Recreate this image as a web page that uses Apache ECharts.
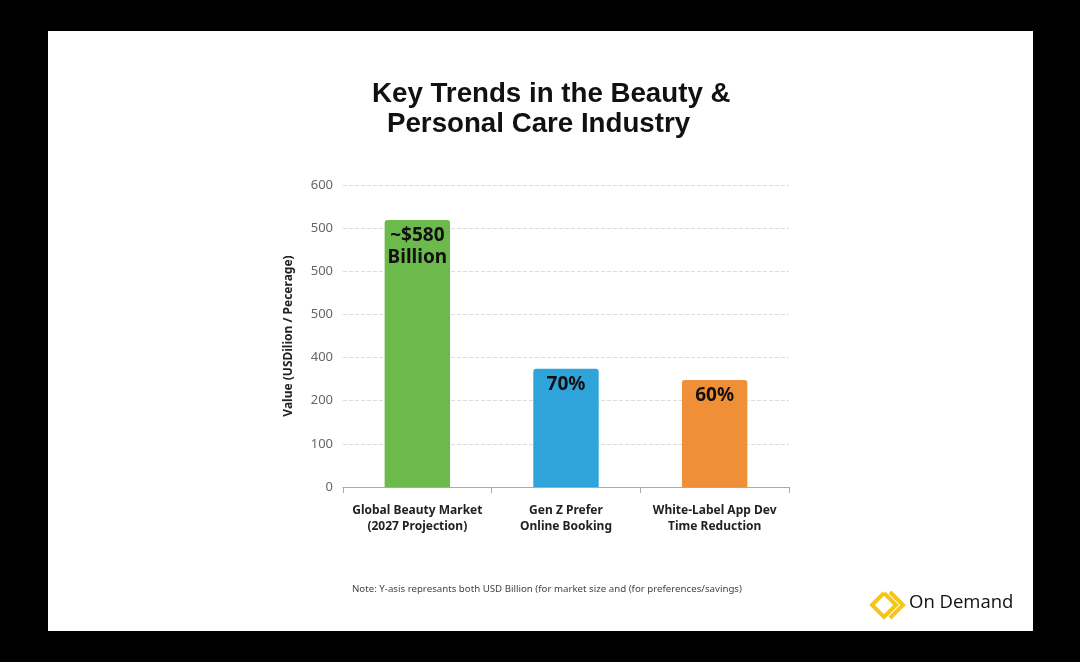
<!DOCTYPE html>
<html>
<head>
<meta charset="utf-8">
<script src="https://cdn.jsdelivr.net/npm/echarts@6/dist/echarts.min.js"></script>
<style>
html,body{margin:0;padding:0;background:#000;}
#c{width:1080px;height:662px;}
</style>
</head>
<body>
<div id="c"></div>
<script>
const categories = ['Global Beauty Market\n(2027 Projection)', 'Gen Z Prefer\nOnline Booking', 'White-Label App Dev\nTime Reduction'];
const values = [619, 274, 248];
const barLabels = ['~$580\nBillion', '70%', '60%'];
const barColors = ['#6cb94c', '#2fa4db', '#ef9039'];
const tickLabels = ['0', '100', '200', '400', '500', '500', '500', '600'];

const chart = echarts.init(document.getElementById('c'));
chart.setOption({
  backgroundColor: '#000',
  animation: false,
  graphic: [
    { type: 'rect', z: -10, shape: { x: 48, y: 31, width: 985, height: 600 }, style: { fill: '#fff' } },
    { type: 'text', left: 372, top: 80, style: { text: 'Key Trends in the Beauty &', font: 'bold 27.7px "Liberation Sans", Arial, sans-serif', fill: '#111' } },
    { type: 'text', left: 387, top: 110, style: { text: 'Personal Care Industry', font: 'bold 27.7px "Liberation Sans", Arial, sans-serif', fill: '#111' } },
    { type: 'text', left: 352, top: 584, style: { text: 'Note: Y-asis represants both USD Billion (for market size and (for preferences/savings)', font: '9.7px "Noto Sans", sans-serif', fill: '#444' } },
    { type: 'polyline', shape: { points: [[884, 593], [872, 605], [884, 617], [896, 605], [884, 593]] }, style: { stroke: '#f5c518', lineWidth: 4, fill: null, lineJoin: 'miter' } },
    { type: 'polyline', shape: { points: [[890, 592], [903, 605], [890, 618]] }, style: { stroke: '#f5c518', lineWidth: 4, fill: null, lineJoin: 'miter' } },
    { type: 'text', left: 909, top: 593, style: { text: 'On Demand', font: '18.5px "Open Sans", sans-serif', fill: '#111' } }
  ],
  grid: { left: 343, top: 185, width: 446, height: 302, containLabel: false },
  xAxis: {
    type: 'category',
    data: categories,
    axisLine: { lineStyle: { color: '#aaa', width: 1 } },
    axisTick: { show: true, interval: 0, length: 6, lineStyle: { color: '#aaa' } },
    axisLabel: { interval: 0, color: '#222', fontWeight: 'bold', fontSize: 12, lineHeight: 16, margin: 16, fontFamily: '"Noto Sans", sans-serif' }
  },
  yAxis: {
    type: 'value',
    min: 0, max: 700, interval: 100,
    name: 'Value (USDilion / Pecerage)',
    nameLocation: 'middle',
    nameGap: 48,
    nameTextStyle: { color: '#222', fontWeight: 'bold', fontSize: 12, fontFamily: '"Noto Sans", sans-serif' },
    axisLine: { show: false },
    axisTick: { show: false },
    splitLine: { lineStyle: { color: '#ddd', type: 'dashed', width: 1 } },
    axisLabel: {
      color: '#666', fontSize: 13, margin: 10, fontFamily: '"Noto Sans", sans-serif',
      formatter: function (v) { return tickLabels[Math.round(v / 100)]; }
    }
  },
  series: [{
    type: 'bar',
    barWidth: '44%',
    data: values.map((v, i) => ({
      value: v,
      itemStyle: { color: barColors[i], borderRadius: [3, 3, 0, 0] },
      label: { formatter: barLabels[i] }
    })),
    label: {
      show: true,
      position: 'insideTop',
      distance: 5,
      color: '#111',
      fontWeight: 'bold',
      fontSize: 19,
      lineHeight: 22,
      fontFamily: '"Noto Sans", sans-serif'
    }
  }]
});
</script>
</body>
</html>
